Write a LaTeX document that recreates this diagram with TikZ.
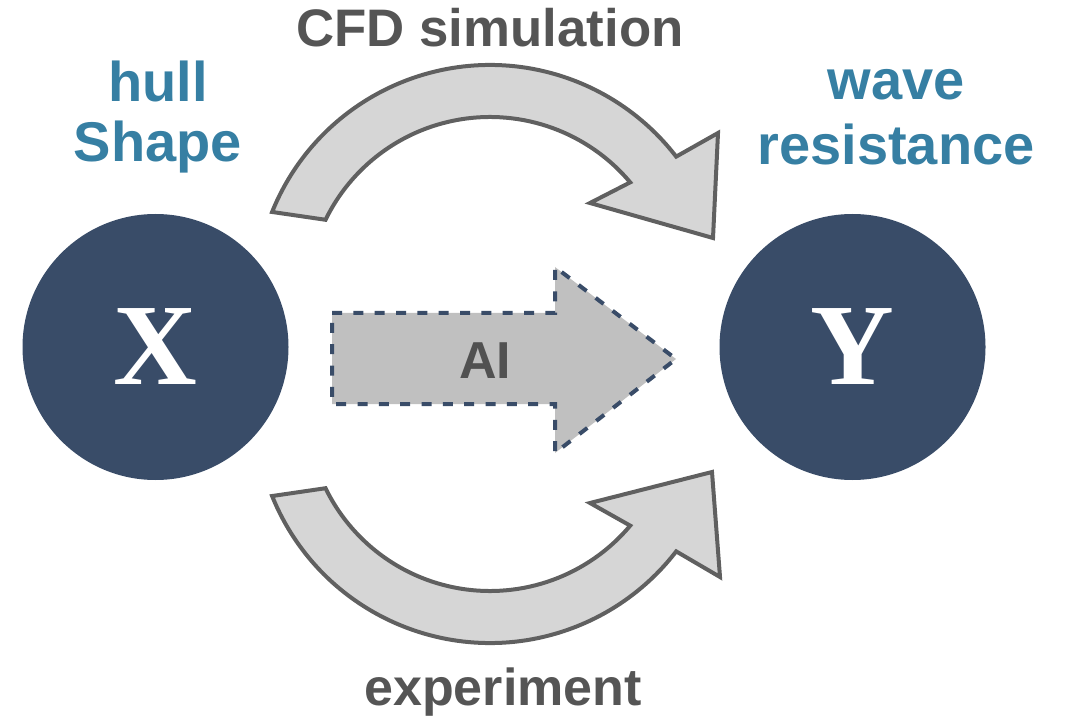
\documentclass[tikz,border=0pt]{standalone}
\usepackage{fontspec}
\setmainfont{Liberation Sans}
\newfontfamily\serifbf{Liberation Serif}
\definecolor{navy}{HTML}{394C68}
\definecolor{steelblue}{HTML}{367FA3}
\definecolor{txtgray}{HTML}{555555}
\definecolor{arrowgray}{HTML}{606060}
\definecolor{arrowfill}{HTML}{D6D6D6}
\definecolor{aifill}{HTML}{C0C0C0}
\begin{document}
\begin{tikzpicture}[x=0.75pt,y=0.75pt,
  blockarrow/.style={draw=arrowgray, fill=arrowfill, line width=3pt, line join=miter},
  aiarrow/.style={draw=navy, fill=aifill, line width=3pt, dash pattern=on 7.5pt off 8.5pt},
  var/.style={circle, fill=navy, minimum size=199.5pt, inner sep=0pt, text=white,
    font=\serifbf\bfseries\fontsize{87}{87}\selectfont},
  graytxt/.style={text=txtgray, inner sep=0pt, font=\bfseries\fontsize{39}{42}\selectfont},
  bluetxt/.style={text=steelblue, inner sep=0pt, align=center}
]
\useasboundingbox (0,0) rectangle (1066,-716);

% variables
\node[var] (X) at (155.5,-347) {X};
\node[var] (Y) at (852.5,-347) {Y};

% CFD simulation arrow (top)
\draw[blockarrow] ([shift={(158:235)}]490,-300) arc[start angle=158, end angle=37.6, radius=235]
  -- (718,-133) -- (713,-238) -- (590,-203)
  -- ([shift={(40:183)}]490,-300) arc[start angle=40, end angle=154, radius=183] -- cycle;

% experiment arrow (bottom)
\draw[blockarrow] ([shift={(-158:235)}]490,-408) arc[start angle=-158, end angle=-37.6, radius=235]
  -- (720,-577) -- (712,-472) -- (590,-503)
  -- ([shift={(-40:183)}]490,-408) arc[start angle=-40, end angle=-154, radius=183] -- cycle;

% AI arrow
\draw[aiarrow] (332,-313) -- (555,-313) -- (555,-267) -- (676,-359) -- (555,-453)
  -- (555,-404) -- (332,-404) -- cycle;

% texts
\node[graytxt, anchor=base, font=\bfseries\fontsize{39.6}{42}\selectfont] (cfd) at (490,-47) {CFD simulation};
\node[graytxt, anchor=base] (exp) at (503,-705) {experiment};
\node[graytxt, anchor=base, text=txtgray!95!black] (ai) at (485,-378) {AI};
\node[bluetxt, anchor=base, font=\bfseries\fontsize{42}{45}\selectfont] (hull) at (158,-162) {hull\\Shape};
\node[bluetxt, anchor=base, font=\bfseries\fontsize{42}{48.75}\selectfont] (wave) at (896,-165) {wave\\resistance};
\end{tikzpicture}
\end{document}
